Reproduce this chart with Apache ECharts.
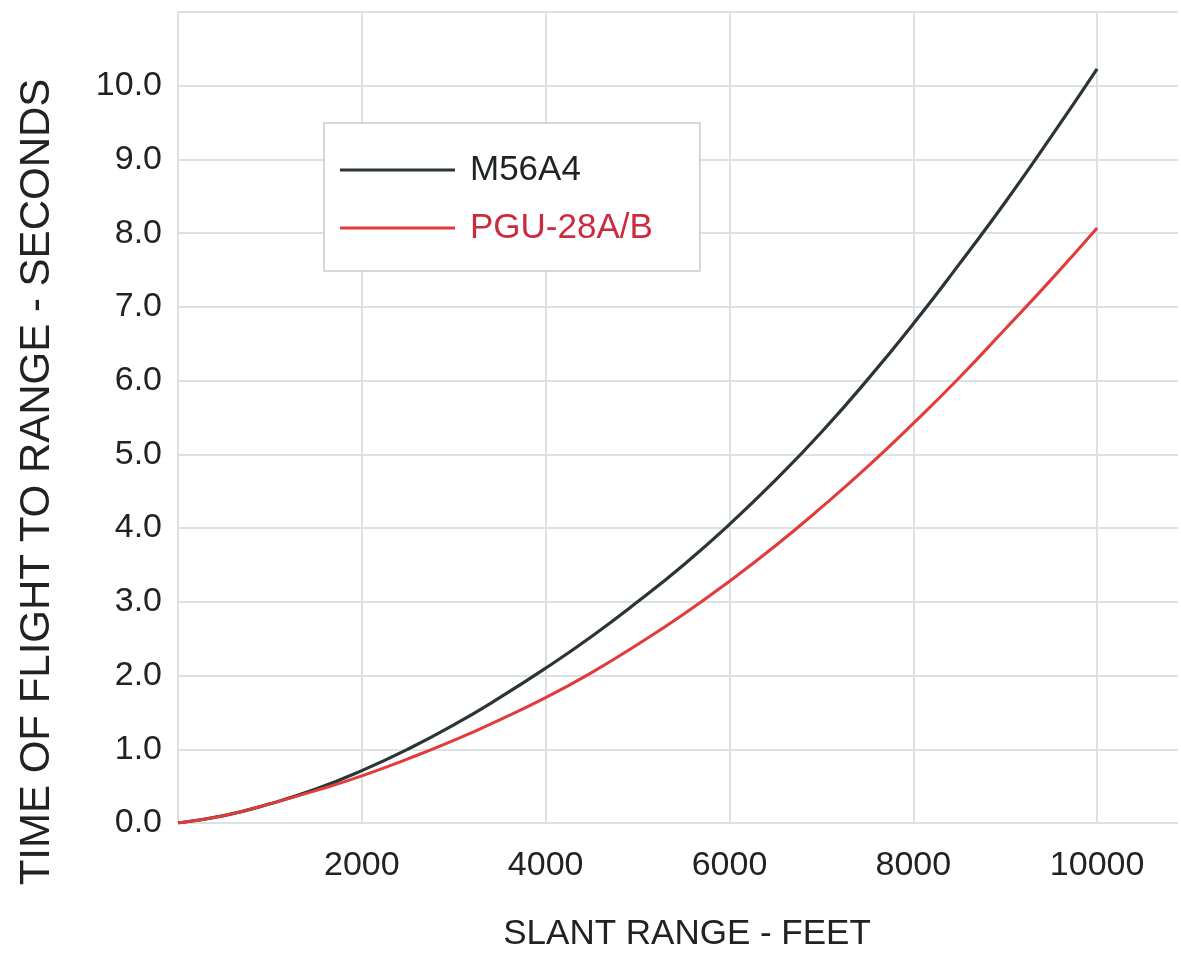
<!DOCTYPE html>
<html>
<head>
<meta charset="utf-8">
<script src="https://cdn.jsdelivr.net/npm/echarts@6/dist/echarts.min.js"></script>
<style>
html,body{margin:0;padding:0;background:#fff;overflow:hidden;}
#chart{width:1181px;height:953px;}
</style>
</head>
<body>
<div id="chart"></div>
<script>
// Data
const slantRange = [0, 500, 1000, 1500, 2000, 2500, 3000, 3500, 4000, 4500, 5000,
                    5500, 6000, 6500, 7000, 7500, 8000, 8500, 9000, 9500, 10000];
const m56a4 = [0.0, 0.10, 0.26, 0.46, 0.71, 1.00, 1.33, 1.70, 2.10, 2.53, 3.00,
               3.50, 4.05, 4.65, 5.30, 6.01, 6.77, 7.58, 8.42, 9.31, 10.23];
const pgu28 = [0.0, 0.10, 0.26, 0.44, 0.64, 0.87, 1.12, 1.40, 1.70, 2.04, 2.42,
               2.83, 3.28, 3.76, 4.28, 4.83, 5.42, 6.04, 6.70, 7.37, 8.07];
const xTickLabels = [2000, 4000, 6000, 8000, 10000];
const yTickLabels = ['0.0','1.0','2.0','3.0','4.0','5.0','6.0','7.0','8.0','9.0','10.0'];
const seriesNames = ['M56A4', 'PGU-28A/B'];
const xAxisTitle = 'SLANT RANGE - FEET';
const yAxisTitle = 'TIME OF FLIGHT TO RANGE - SECONDS';

const FONT = "'Liberation Sans', Arial, sans-serif";
const GRID = '#dde1e1';
const pair = (xs, ys) => xs.map((x, i) => [x, ys[i]]);

const chart = echarts.init(document.getElementById('chart'));
chart.setOption({
  backgroundColor: '#ffffff',
  animation: false,
  grid: { left: 178, top: 12, bottom: 130, right: 0, containLabel: false },
  xAxis: {
    type: 'value', min: 0, max: 10880, interval: 2000,
    axisLine: { show: false }, axisTick: { show: false },
    splitLine: { show: true, showMaxLine: false, lineStyle: { color: GRID, width: 2 } },
    axisLabel: {
      margin: 26, fontSize: 34, color: '#222', fontFamily: FONT,
      formatter: v => xTickLabels.includes(v) ? String(v) : ''
    }
  },
  yAxis: {
    type: 'value', min: 0, max: 11, interval: 1,
    axisLine: { show: false }, axisTick: { show: false },
    splitLine: { show: true, lineStyle: { color: GRID, width: 2 } },
    axisLabel: {
      margin: 16, fontSize: 34, color: '#222', fontFamily: FONT,
      formatter: v => (v >= 0 && v < yTickLabels.length && Number.isInteger(v)) ? yTickLabels[v] : ''
    }
  },
  legend: {
    orient: 'vertical', left: 324, top: 123,
    padding: [27, 47, 23, 16], itemGap: 18,
    itemWidth: 115, itemHeight: 3, icon: 'rect',
    borderColor: '#c9cccc', borderWidth: 1.5, backgroundColor: '#ffffff',
    textStyle: { fontSize: 35, lineHeight: 40, fontFamily: FONT, padding: [0, 0, 0, 10] },
    data: [
      { name: seriesNames[0], textStyle: { color: '#1f2324' } },
      { name: seriesNames[1], textStyle: { color: '#cc2a3e' } }
    ]
  },
  graphic: [
    { type: 'text', x: 687, y: 934,
      style: { text: xAxisTitle, font: "35px 'Liberation Sans', Arial, sans-serif", fill: '#222', align: 'center', verticalAlign: 'middle', textAlign: 'center', textVerticalAlign: 'middle' } },
    { type: 'text', x: 37, y: 482, rotation: Math.PI / 2,
      style: { text: yAxisTitle, font: "42px 'Liberation Sans', Arial, sans-serif", fill: '#222', align: 'center', verticalAlign: 'middle', textAlign: 'center', textVerticalAlign: 'middle' } }
  ],
  series: [
    { name: seriesNames[0], type: 'line', smooth: true, symbol: 'none',
      data: pair(slantRange, m56a4),
      lineStyle: { color: '#2b3436', width: 3.2 }, itemStyle: { color: '#2b3436' } },
    { name: seriesNames[1], type: 'line', smooth: true, symbol: 'none',
      data: pair(slantRange, pgu28),
      lineStyle: { color: '#e23b3b', width: 3 }, itemStyle: { color: '#e23b3b' } }
  ]
});
</script>
</body>
</html>
